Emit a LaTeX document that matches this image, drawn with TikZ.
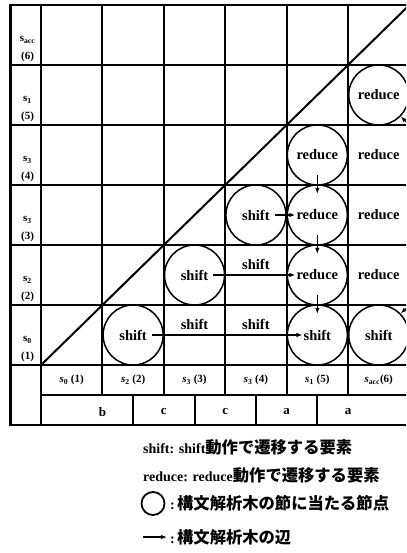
\documentclass[tikz,border=0pt]{standalone}
\usepackage{fontspec}
\setmainfont{Liberation Serif}
\newfontfamily\jpfont{Noto Sans CJK JP}
\usetikzlibrary{arrows.meta}
\newcommand\jtext[1]{{\jpfont\fontsize{16.3}{18}\selectfont #1}}
\tikzset{
  rule/.style={line width=2pt},
  frame/.style={line width=2.4pt},
  elem/.style={inner sep=1pt, font=\bfseries\fontsize{14.5}{16}\selectfont},
  ring/.style={circle, draw, line width=1.5pt, minimum size=60pt, inner sep=0pt},
  edge/.style={line width=1.2pt, -{Latex[length=6pt,width=4.5pt]}},
  head/.style={inner sep=0pt, font=\bfseries\fontsize{11}{13}\selectfont},
  inlabel/.style={inner sep=0pt, font=\bfseries\fontsize{11}{13}\selectfont},
  word/.style={inner sep=0pt, font=\bfseries\fontsize{13}{15}\selectfont},
  legend/.style={anchor=west, inner sep=0pt, font=\bfseries\fontsize{14}{16}\selectfont},
}
\begin{document}
\begin{tikzpicture}[x=61.4pt, y=-60pt]
  \useasboundingbox (-0.668,-0.083) rectangle (5.945,9.133);
  \clip (-0.668,-0.083) rectangle (5.945,9.133);

  % 表の枠
  \path[draw, frame](-0.5,0)rectangle(6,7);
  \foreach \y in {1,...,6} \path[draw, rule](-0.5,\y)to(6,\y);
  \path[draw, rule](0,6.5)to(6,6.5);
  \path[draw, rule](0,0)to(0,7);
  \foreach \x in {1,...,5} \path[draw, rule](\x,0)to(\x,6.5);
  \foreach \x in {1.5,2.5,3.5,4.5} \path[draw, rule](\x,6.5)to(\x,7);
  % 対角線
  \path[draw, rule](0,6)to(6,0);

  % 行の見出し
  \foreach \r/\s in {6/acc,5/1,4/3,3/3,2/2,1/0}{
    \node[head](h\r)at(-0.22,6.58-\r){s\textsubscript{\s}};
    \node[head](hn\r)at(-0.22,6.87-\r){(\r)};
  }
  % 列の見出し
  \foreach \c/\s in {1/0,2/2,3/3,4/3,5/1}
    \node[inlabel](p\c)at(\c-0.5,6.25){\textit{s}\textsubscript{\s} (\c)};
  \node[inlabel](p6)at(5.5,6.25){\textit{s}\textsubscript{acc}(6)};
  % 入力記号
  \foreach \c/\w in {1/b,2/c,3/c,4/a,5/a}
    \node[word](w\c)at(\c,6.78){\w};

  % 要素
  \node[elem](n12)at(1.5,5.5){shift};
  \node[elem](n15)at(4.5,5.5){shift};
  \node[elem](n16)at(5.5,5.5){shift};
  \node[elem](n23)at(2.5,4.5){shift};
  \node[elem](n25)at(4.5,4.5){reduce};
  \node[elem](n26)at(5.5,4.5){reduce};
  \node[elem](n34)at(3.5,3.5){shift};
  \node[elem](n35)at(4.5,3.5){reduce};
  \node[elem](n36)at(5.5,3.5){reduce};
  \node[elem](n45)at(4.5,2.5){reduce};
  \node[elem](n46)at(5.5,2.5){reduce};
  \node[elem](n56)at(5.5,1.5){reduce};
  \node[elem](l13)at(2.5,5.32){shift};
  \node[elem](l14)at(3.5,5.32){shift};
  \node[elem](l24)at(3.5,4.33){shift};

  % 節点
  \foreach \p in {n12,n15,n16,n23,n25,n34,n35,n45,n56}
    \node[ring](o\p)at(\p){};

  % 辺
  \path[draw, edge, shorten <=4pt](n12)to(n15);
  \path[draw, edge, shorten <=4pt](n23)to(n25);
  \path[draw, edge, shorten <=4pt](n34)to(n35);
  \path[draw, edge]([yshift=-20pt]n45.center)to([yshift=21pt]n35.center);
  \path[draw, edge]([yshift=-20pt]n35.center)to([yshift=21pt]n25.center);
  \path[draw, edge]([yshift=-20pt]n25.center)to([yshift=21pt]n15.center);
  \coordinate(n27)at(6.5,4.5);
  \coordinate(n47)at(6.5,2.5);
  \path[draw, edge](n27)to(on16);
  \path[draw, edge](n47)to(on56);

  % 凡例
  \node[legend](t1)at(1.661,7.367){shift: shift\jtext{動作で遷移する要素}};
  \node[legend](t2)at(1.661,7.833){reduce: reduce\jtext{動作で遷移する要素}};
  \node[draw, circle, line width=1.8pt, minimum size=23pt, inner sep=0pt](key)at(1.824,8.308){};
  \node[legend](t3)at(2.10,8.308){:\,\jtext{構文解析木の節に当たる節点}};
  \coordinate(ka)at(1.661,8.867);
  \node[legend](t4)at(2.10,8.867){:\,\jtext{構文解析木の辺}};
  \path[draw, edge, shorten >=3pt](ka)to(t4.west);
\end{tikzpicture}
\end{document}
